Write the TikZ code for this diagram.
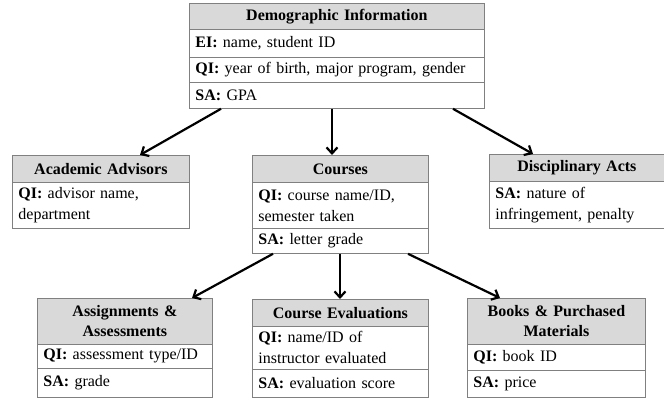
\documentclass[tikz,border=0pt]{standalone}
\usepackage{fontspec}
\setmainfont{Liberation Serif}
\usetikzlibrary{arrows.meta}
\definecolor{hdrgray}{HTML}{D9D9D9}
\definecolor{bordergray}{HTML}{808080}
\tikzset{
  cell/.style={draw=bordergray, line width=0.8pt, anchor=north west, inner xsep=6pt, inner ysep=0pt,
    align=left, font=\fontsize{16}{21}\selectfont},
  hdr/.style={cell, fill=hdrgray, align=center, font=\fontsize{16}{20}\selectfont\bfseries},
  arr/.style={draw=black, line width=2.2pt, -{Straight Barb[length=6pt,width=11pt]}}
}
\begin{document}
\begin{tikzpicture}[x=1pt,y=-1pt]
\useasboundingbox (0,0) rectangle (664,398);
% Demographic Information
\node[hdr, text width=283pt, minimum height=26pt] (demoH) at (189,3) {Demographic Information};
\node[cell, text width=283pt, minimum height=28pt] (demoEI) at (189,29) {\textbf{EI:} name, student ID};
\node[cell, text width=283pt, minimum height=25pt] (demoQI) at (189,57) {\textbf{QI:} year of birth, major program, gender};
\node[cell, text width=283pt, minimum height=26pt] (demoSA) at (189,82) {\textbf{SA:} GPA};
% Academic Advisors
\node[hdr, text width=165pt, minimum height=27pt] (advH) at (12,155) {Academic Advisors};
\node[cell, text width=165pt, minimum height=46pt] (advQI) at (12,182) {\textbf{QI:} advisor name,\\department};
% Courses
\node[hdr, text width=164pt, minimum height=27pt] (crsH) at (252,155) {Courses};
\node[cell, text width=164pt, minimum height=46pt] (crsQI) at (252,182) {\textbf{QI:} course name/ID,\\semester taken};
\node[cell, text width=164pt, minimum height=25pt] (crsSA) at (252,228) {\textbf{SA:} letter grade};
% Disciplinary Acts
\node[hdr, text width=163pt, minimum height=27pt] (discH) at (489,154) {Disciplinary Acts};
\node[cell, text width=163pt, minimum height=47pt] (discSA) at (489,181) {\textbf{SA:} nature of\\infringement, penalty};
% Assignments & Assessments
\node[hdr, text width=163pt, minimum height=46pt] (asgH) at (37,298) {Assignments \&\\Assessments};
\node[cell, text width=163pt, minimum height=24pt] (asgQI) at (37,344) {\textbf{QI:} assessment type/ID};
\node[cell, text width=163pt, minimum height=29pt] (asgSA) at (37,368) {\textbf{SA:} grade};
% Course Evaluations
\node[hdr, text width=164pt, minimum height=27pt] (evH) at (252,299) {Course Evaluations};
\node[cell, text width=164pt, minimum height=43pt] (evQI) at (252,326) {\textbf{QI:} name/ID of\\instructor evaluated};
\node[cell, text width=164pt, minimum height=28pt] (evSA) at (252,369) {\textbf{SA:} evaluation score};
% Books & Purchased Materials
\node[hdr, text width=166pt, minimum height=46pt] (bkH) at (467,298) {Books \& Purchased\\Materials};
\node[cell, text width=166pt, minimum height=26pt] (bkQI) at (467,344) {\textbf{QI:} book ID};
\node[cell, text width=166pt, minimum height=27pt] (bkSA) at (467,370) {\textbf{SA:} price};
% Arrows
\draw[arr] ([xshift=32pt]demoSA.south west) -- ([xshift=128pt]advH.north west);
\draw[arr] ([xshift=143pt]demoSA.south west) -- ([xshift=80pt]crsH.north west);
\draw[arr] ([xshift=264pt]demoSA.south west) -- ([xshift=44pt]discH.north west);
\draw[arr] ([xshift=21pt]crsSA.south west) -- ([xshift=155pt]asgH.north west);
\draw[arr] ([xshift=88pt]crsSA.south west) -- ([xshift=88pt]evH.north west);
\draw[arr] ([xshift=156pt]crsSA.south west) -- ([xshift=33pt]bkH.north west);
\end{tikzpicture}
\end{document}
